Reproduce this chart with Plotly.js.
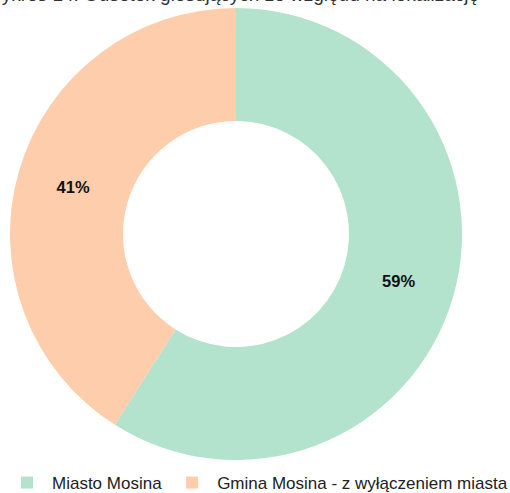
<!DOCTYPE html>
<html>
<head>
<meta charset="utf-8">
<script src="https://cdn.plot.ly/plotly-3.0.1.min.js"></script>
<style>html,body{margin:0;padding:0;background:#fff;}#chart{width:510px;height:493px;}</style>
</head>
<body>
<div id="chart"></div>
<script>
const labels = ["Miasto Mosina", "Gmina Mosina - z wyłączeniem miasta"];
const values = [59, 41];
const colors = ["#b3e2cd", "#fdcdac"];
const titleText = "Wykres 14. Odsetek głosujących ze względu na lokalizację";

const trace = {
  type: "pie",
  labels: labels,
  values: values,
  hole: 0.5,
  sort: false,
  direction: "clockwise",
  rotation: 0,
  marker: {colors: colors, line: {width: 0}},
  textinfo: "percent",
  texttemplate: "<b>%{percent:.0%}</b>",
  textposition: "inside",
  insidetextorientation: "horizontal",
  textfont: {family: "Liberation Sans, Arial, sans-serif", size: 16.5, color: "#111"},
  hoverinfo: "label+percent",
  domain: {x: [10/510, 462/510], y: [1 - 460/493, 1 - 8/493]}
};

const layout = {
  width: 510, height: 493,
  margin: {l: 0, r: 0, t: 0, b: 0, autoexpand: false},
  paper_bgcolor: "#fff",
  font: {family: "Liberation Sans, Arial, sans-serif", color: "#222"},
  title: {text: titleText, x: 231.5/510, xanchor: "center", y: 1, yref: "container", yanchor: "top",
          pad: {t: -12}, font: {size: 19, color: "#333"}},
  showlegend: true,
  legend: {orientation: "h", x: 2/510, xanchor: "left", y: -8/493, yanchor: "bottom",
           itemwidth: 40,
           font: {size: 17, color: "#222"}, traceorder: "normal"}
};

Plotly.newPlot("chart", [trace], layout, {displayModeBar: false, staticPlot: true});
</script>
</body>
</html>
